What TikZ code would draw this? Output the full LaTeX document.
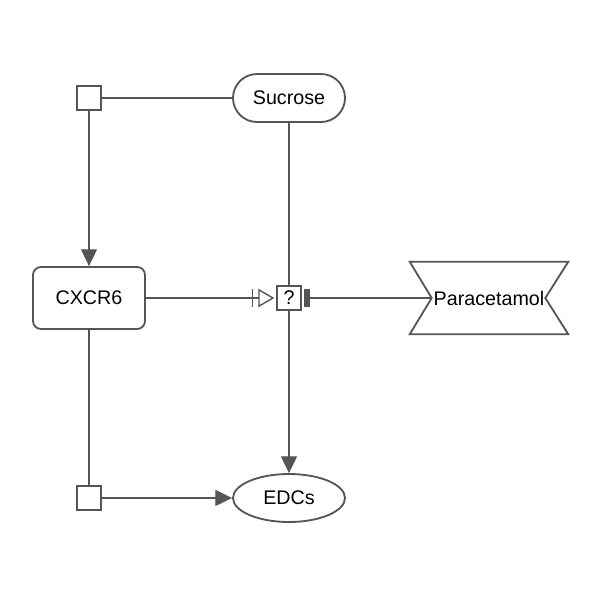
\documentclass[tikz,border=0pt]{standalone}
\usepackage{fontspec}
\setmainfont{Liberation Sans}
\usetikzlibrary{shapes.geometric,arrows.meta,positioning,calc}
\definecolor{edgegray}{RGB}{85,85,85}

\begin{document}
\begin{tikzpicture}[
    x=0.025cm, y=-0.025cm,
    entity/.style={draw=edgegray, line width=1.3pt, fill=white, inner sep=0pt, font=\fontsize{14}{16}\selectfont},
    procbox/.style={draw=edgegray, line width=1pt, fill=white, minimum size=0.6cm, inner sep=0pt, font=\fontsize{14}{16}\selectfont},
    link/.style={draw=edgegray, line width=1pt},
    flow/.style={link, -{Triangle[length=0.42cm,width=0.4cm]}},
    needs/.style={link, shorten >=0.05cm, -{Bar[width=0.46cm,sep=0.12cm]Triangle[open,length=0.4cm,width=0.46cm]}},
    blocks/.style={link, shorten >=0.05cm, -{Rectangle[length=0.15cm,width=0.46cm]}}
]
    \useasboundingbox (0,0) rectangle (600,600);

    % Entities
    \node[entity, rounded corners=0.6cm, minimum width=2.8cm, minimum height=1.2cm] (sucrose) at (289,98) {Sucrose};
    \node[entity, ellipse, minimum width=2.8cm, minimum height=1.2cm] (edcs) at (289,498) {EDCs};
    \node[entity, rounded corners=0.2cm, minimum width=2.8cm, minimum height=1.55cm] (cxcr6) at (89,298) {CXCR6};

    % Paracetamol (notched box)
    \node[minimum width=3.95cm, minimum height=1.8cm, inner sep=0pt, font=\fontsize{14}{16}\selectfont] (paracetamol) at (489,298) {Paracetamol};
    \draw[edgegray, line width=1.3pt] (paracetamol.north west) -- (paracetamol.north east)
        -- ($(paracetamol.east)+(-23,0)$) -- (paracetamol.south east)
        -- (paracetamol.south west) -- ($(paracetamol.west)+(22,0)$) -- cycle;
    \coordinate (paracetamol-in) at ($(paracetamol.west)+(22,0)$);

    % Processes
    \node[procbox] (proc1) at (89,98) {};
    \node[procbox] (proc2) at (89,498) {};
    \node[procbox] (modq) at (289,298) {?};

    % Connectors
    \draw[link] (sucrose) -- (proc1);
    \draw[flow] (proc1) -- (cxcr6);
    \draw[link] (sucrose) -- (modq);
    \draw[flow] (modq) -- (edcs);
    \draw[link] (cxcr6) -- (proc2);
    \draw[flow] (proc2) -- (edcs);
    \draw[needs] (cxcr6) -- (modq);
    \draw[blocks] (paracetamol-in) -- (modq);
\end{tikzpicture}
\end{document}
